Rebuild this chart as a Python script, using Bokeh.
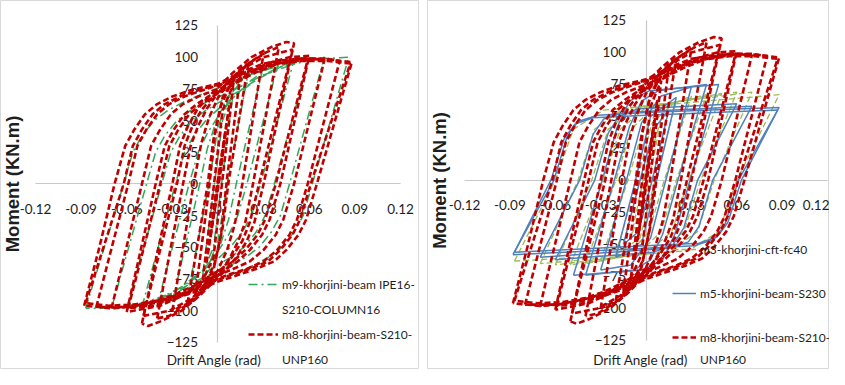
from bokeh.plotting import figure
from bokeh.models import (ColumnDataSource, LinearAxis, FixedTicker, CustomJSTickFormatter,
                          Legend, LegendItem, Label, Range1d)
from bokeh.layouts import row
from bokeh.embed import file_html
from bokeh.resources import INLINE
import math

# ---------------- data ----------------
x_ticks = [-0.12, -0.09, -0.06, -0.03, 0, 0.03, 0.06, 0.09, 0.12]
y_ticks = [-125, -100, -75, -50, -25, 0, 25, 50, 75, 100, 125]

# m8-khorjini-beam-S210-UNP160 (red dashed) : one list per cycle
m8_x = [
    [-0.005, -0.001, 0.005, 0.001, -0.005],
    [-0.0075, -0.002, 0.0075, 0.002, -0.0075],
    [-0.010, -0.005, 0.003, 0.010, 0.005, -0.003, -0.010],
    [-0.015, -0.006, -0.002, 0.003, 0.009, 0.015, 0.006, 0.002, -0.003, -0.009, -0.015],
    [-0.020, -0.007, -0.003, 0.002, 0.008, 0.014, 0.020, 0.007, 0.003, -0.002, -0.008, -0.014, -0.020],
    [-0.030, -0.016, -0.011, -0.006, 0.000, 0.007, 0.016, 0.030, 0.016, 0.011, 0.006, 0.000, -0.007, -0.016, -0.030],
    [-0.040, -0.023, -0.018, -0.013, -0.007, 0.000, 0.008, 0.020, 0.032, 0.040, 0.023, 0.018, 0.013, 0.007, 0.000, -0.008, -0.020, -0.032, -0.040],
    [-0.050, -0.030, -0.025, -0.020, -0.014, -0.007, 0.000, 0.010, 0.022, 0.035, 0.045, 0.050, 0.030, 0.024, 0.019, 0.012, 0.005, -0.002, -0.012, -0.024, -0.037, -0.046, -0.050],
    [-0.049, -0.027, -0.022, -0.017, -0.011, -0.004, 0.003, 0.015, 0.030, 0.049, 0.027, 0.021, 0.016, 0.009, 0.002, -0.005, -0.017, -0.032, -0.049],
    [-0.060, -0.041, -0.035, -0.029, -0.022, -0.014, -0.005, 0.005, 0.018, 0.032, 0.047, 0.060, 0.041, 0.034, 0.029, 0.021, 0.013, 0.004, -0.006, -0.020, -0.038, -0.060],
    [-0.059, -0.038, -0.032, -0.026, -0.019, -0.011, -0.002, 0.008, 0.022, 0.040, 0.059, 0.038, 0.031, 0.026, 0.018, 0.010, 0.001, -0.010, -0.025, -0.042, -0.059],
    [-0.070, -0.050, -0.044, -0.038, -0.031, -0.023, -0.013, -0.002, 0.010, 0.025, 0.040, 0.055, 0.070, 0.050, 0.043, 0.038, 0.030, 0.021, 0.010, 0.000, -0.012, -0.028, -0.048, -0.070],
    [-0.080, -0.059, -0.053, -0.047, -0.040, -0.032, -0.022, -0.010, 0.003, 0.018, 0.035, 0.055, 0.070, 0.080, 0.059, 0.052, 0.047, 0.039, 0.030, 0.019, 0.008, -0.005, -0.020, -0.038, -0.058, -0.080],
    [-0.088, -0.078, -0.068, -0.061, -0.055, -0.048, -0.040, -0.030, -0.018, 0.000, 0.015, 0.030, 0.045, 0.060, 0.075, 0.088, 0.065, 0.058, 0.053, 0.045, 0.037, 0.025, 0.015, 0.000, -0.015, -0.030, -0.050, -0.070, -0.088],
    [-0.087, -0.062, -0.056, -0.050, -0.043, -0.035, -0.025, -0.013, 0.002, 0.018, 0.035, 0.055, 0.072, 0.087, 0.061, 0.054, 0.049, 0.041, 0.033, 0.021, 0.010, -0.003, -0.018, -0.035, -0.055, -0.072, -0.087],
]
m8_y = [
    [-42, -6, 42, 6, -42],
    [-62, -12, 63, 12, -62],
    [-76, -25, 58, 78, 25, -58, -76],
    [-88, -5, 40, 68, 80, 88, 5, -40, -68, -80, -88],
    [-94, -2, 35, 62, 78, 88, 95, 2, -35, -62, -78, -88, -94],
    [-100, 0, 32, 52, 68, 80, 92, 103, 0, -32, -52, -68, -80, -92, -100],
    [-106, 0, 30, 46, 60, 72, 82, 95, 104, 108, 0, -30, -46, -60, -72, -82, -95, -104, -106],
    [-110, 0, 30, 45, 58, 68, 76, 88, 100, 108, 112, 111, 0, -30, -45, -58, -68, -76, -88, -100, -108, -112, -110],
    [-104, 0, 30, 45, 58, 68, 76, 90, 100, 106, 0, -30, -45, -58, -68, -76, -90, -100, -104],
    [-101, 0, 30, 43, 55, 63, 70, 76, 86, 95, 100, 101, 0, -28, -40, -52, -61, -68, -75, -86, -96, -101],
    [-98, 0, 30, 43, 55, 63, 70, 77, 88, 96, 98, 0, -28, -40, -52, -61, -68, -76, -88, -96, -98],
    [-98, 0, 30, 43, 55, 63, 69, 74, 79, 88, 95, 99, 98, 0, -28, -40, -52, -61, -67, -72, -78, -87, -95, -98],
    [-97, 0, 30, 43, 55, 63, 69, 74, 79, 88, 95, 99, 99, 97, 0, -28, -40, -52, -61, -67, -71, -77, -85, -92, -97, -97],
    [-96, -50, 0, 30, 43, 55, 63, 69, 74, 79, 88, 95, 98, 99, 98, 96, 0, -28, -40, -52, -61, -67, -71, -77, -85, -91, -96, -98, -96],
    [-94, 0, 30, 43, 55, 63, 69, 74, 79, 88, 94, 97, 97, 95, 0, -28, -40, -52, -61, -67, -71, -77, -85, -91, -95, -96, -94],
]

# m9-khorjini-beam IPE16-S210-COLUMN16 (green dash-dot)
m9_x = [
    [-0.010, -0.005, 0.003, 0.010, 0.005, -0.003, -0.010],
    [-0.020, -0.006, 0.000, 0.008, 0.020, 0.006, 0.000, -0.008, -0.020],
    [-0.030, -0.012, -0.007, -0.001, 0.006, 0.015, 0.030, 0.012, 0.007, 0.001, -0.006, -0.015, -0.030],
    [-0.040, -0.019, -0.013, -0.007, 0.001, 0.010, 0.022, 0.040, 0.019, 0.013, 0.007, -0.001, -0.010, -0.022, -0.040],
    [-0.050, -0.028, -0.022, -0.016, -0.008, 0.001, 0.012, 0.025, 0.050, 0.028, 0.022, 0.016, 0.008, -0.001, -0.012, -0.025, -0.050],
    [-0.060, -0.037, -0.031, -0.025, -0.017, -0.008, 0.003, 0.015, 0.030, 0.060, 0.037, 0.031, 0.025, 0.017, 0.008, -0.003, -0.015, -0.030, -0.060],
    [-0.070, -0.047, -0.041, -0.035, -0.027, -0.018, -0.007, 0.005, 0.020, 0.040, 0.070, 0.047, 0.041, 0.035, 0.027, 0.018, 0.007, -0.005, -0.020, -0.040, -0.070],
    [-0.087, -0.062, -0.056, -0.050, -0.042, -0.033, -0.022, -0.010, 0.005, 0.025, 0.050, 0.070, 0.086, 0.062, 0.056, 0.050, 0.042, 0.033, 0.022, 0.010, -0.005, -0.025, -0.050, -0.070, -0.087],
]
m9_y = [
    [-70, -25, 50, 72, 25, -50, -70],
    [-88, 0, 45, 70, 88, 0, -45, -70, -88],
    [-93, 0, 28, 50, 68, 82, 94, 0, -28, -50, -68, -82, -93],
    [-96, 0, 25, 40, 55, 68, 82, 97, 0, -25, -40, -55, -68, -82, -96],
    [-97, 0, 25, 38, 50, 60, 70, 82, 98, 0, -25, -38, -50, -60, -70, -82, -97],
    [-98, 0, 25, 38, 50, 58, 66, 74, 86, 99, 0, -25, -38, -50, -58, -66, -74, -86, -98],
    [-98, 0, 25, 38, 50, 58, 65, 71, 80, 92, 100, 0, -25, -38, -50, -58, -65, -71, -80, -92, -98],
    [-98, 0, 25, 38, 50, 58, 65, 71, 78, 88, 96, 99, 100, 0, -25, -38, -50, -58, -65, -71, -78, -88, -96, -98, -98],
]

# m3-khorjini-cft-fc40 (light green dashed)
m3_x = [
    [-0.010, -0.002, 0.010, 0.002, -0.010],
    [-0.020, -0.006, 0.004, 0.020, 0.006, -0.004, -0.020],
    [-0.030, -0.012, -0.002, 0.010, 0.030, 0.012, 0.002, -0.010, -0.030],
    [-0.040, -0.020, -0.010, 0.005, 0.040, 0.020, 0.010, -0.005, -0.040],
    [-0.050, -0.028, -0.017, 0.000, 0.050, 0.028, 0.017, 0.000, -0.050],
    [-0.060, -0.036, -0.025, -0.008, 0.060, 0.036, 0.025, 0.008, -0.060],
    [-0.070, -0.045, -0.034, -0.015, 0.070, 0.045, 0.034, 0.015, -0.070],
    [-0.087, -0.060, -0.048, -0.028, 0.088, 0.060, 0.048, 0.028, -0.087],
]
m3_y = [
    [-45, 0, 48, 0, -45],
    [-58, 0, 45, 62, 0, -45, -58],
    [-63, 0, 40, 56, 66, 0, -40, -56, -63],
    [-65, 0, 40, 57, 67, 0, -40, -57, -65],
    [-66, 0, 40, 57, 68, 0, -40, -57, -66],
    [-66, 0, 40, 56, 69, 0, -40, -56, -66],
    [-65, 0, 40, 56, 69, 0, -40, -56, -65],
    [-63, 0, 40, 55, 67, 0, -40, -55, -63],
]

# m5-khorjini-beam-S230 (blue solid)
m5_x = [
    [-0.015, -0.004, 0.005, 0.015, 0.004, -0.005, -0.015],
    [-0.020, -0.007, 0.003, 0.020, 0.007, -0.003, -0.020],
    [-0.030, -0.013, -0.003, 0.010, 0.030, 0.013, 0.003, -0.010, -0.030],
    [-0.040, -0.021, -0.011, -0.003, 0.008, 0.040, 0.021, 0.011, 0.003, -0.008, -0.040],
    [-0.048, -0.029, -0.019, -0.011, 0.002, 0.048, 0.029, 0.019, 0.011, -0.002, -0.048],
    [-0.060, -0.034, -0.025, -0.018, -0.005, 0.060, 0.034, 0.025, 0.018, 0.005, -0.060],
    [-0.070, -0.044, -0.035, -0.028, -0.015, 0.070, 0.044, 0.035, 0.028, 0.015, -0.070],
    [-0.088, -0.061, -0.052, -0.045, -0.032, 0.000, 0.088, 0.061, 0.052, 0.045, 0.032, 0.000, -0.088],
    [-0.087, -0.063, -0.054, -0.047, -0.035, 0.000, 0.087, 0.063, 0.054, 0.047, 0.035, 0.000, -0.087],
]
m5_y = [
    [-50, 0, 40, 55, 0, -40, -50],
    [-60, 0, 50, 65, 0, -50, -60],
    [-70, 0, 45, 66, 73, 0, -45, -66, -70],
    [-74, 0, 42, 62, 70, 75, 0, -42, -62, -70, -74],
    [-74, 0, 42, 62, 70, 75, 0, -42, -62, -70, -74],
    [-62, 0, 37, 50, 56, 60, 0, -37, -50, -56, -62],
    [-60, 0, 36, 48, 53, 58, 0, -36, -48, -53, -60],
    [-58, 0, 35, 46, 51, 53, 57, 0, -35, -46, -51, -53, -58],
    [-56, 0, 33, 44, 49, 51, 55, 0, -33, -44, -49, -51, -56],
]

x_title = "Drift Angle (rad)"
y_title = "Moment (KN.m)"

# ---------------- styling ----------------
RED = "#c00000"
GREEN = "#2fa85a"
LIME = "#9bbb59"
BLUE = "#4f81bd"
FONT = "Lato"
TXT = "#1e1e1e"
H = 369


def make_panel(width, xr, yr):
    p = figure(width=width, height=H, x_range=Range1d(*xr), y_range=Range1d(*yr),
               x_axis_type=None, y_axis_type=None, output_backend="svg",
               toolbar_location=None, min_border=0)
    p.outline_line_color = "#d9d9d9"
    p.background_fill_color = "white"
    xa = LinearAxis(fixed_location=0, bounds=(-0.12, 0.12),
                    ticker=FixedTicker(ticks=x_ticks),
                    formatter=CustomJSTickFormatter(
                        code="return Math.abs(tick) < 1e-9 ? '0' : tick.toFixed(2);"))
    ya = LinearAxis(fixed_location=0, bounds=(-125, 125),
                    ticker=FixedTicker(ticks=y_ticks))
    for ax in (xa, ya):
        ax.level = "underlay"
        ax.axis_line_color = "#c8c8c8"
        ax.axis_line_width = 1.2
        ax.major_tick_line_color = None
        ax.minor_tick_line_color = None
        ax.major_label_text_font = FONT
        ax.major_label_text_font_size = "13.5px"
        ax.major_label_text_color = TXT
        ax.major_label_standoff = 14
    p.add_layout(xa, "below")
    p.add_layout(ya, "left")
    return p


def add_titles(p, ytx, xtx, xty):
    p.add_layout(Label(x=ytx, y=0, text=y_title, angle=math.pi / 2,
                       text_align="center", text_baseline="middle",
                       text_font="Liberation Sans", text_font_style="bold",
                       text_font_size="18.5px", text_color=TXT))
    p.add_layout(Label(x=xtx, y=xty, text=x_title,
                       text_align="center", text_baseline="middle",
                       text_font=FONT, text_font_size="13.5px", text_color=TXT))


def make_legend(items, x, spacing, gw, standoff):
    return Legend(items=items, location=(x, 0), glyph_width=gw, glyph_height=20,
                  label_height=20, spacing=spacing, label_standoff=standoff,
                  padding=0, margin=0, border_line_alpha=0, background_fill_alpha=0,
                  label_text_font=FONT, label_text_font_size="12px",
                  label_text_color=TXT)


# ---------------- left panel ----------------
p1 = make_panel(419, (-0.1430, 0.1325), (-146.3, 144.7))
g1 = p1.multi_line(xs="xs", ys="ys", source=ColumnDataSource(dict(xs=m9_x, ys=m9_y)),
                   line_color=GREEN, line_width=1.5, line_dash="9 4 2 4")
r1 = p1.multi_line(xs="xs", ys="ys", source=ColumnDataSource(dict(xs=m8_x, ys=m8_y)),
                   line_color=RED, line_width=2.6, line_dash="6 3")
b1 = p1.line(x=[], y=[], line_alpha=0)
add_titles(p1, -0.1351, -0.0026, -139.2)
p1.add_layout(make_legend(
    [LegendItem(label="m9-khorjini-beam IPE16-", renderers=[g1]),
     LegendItem(label="S210-COLUMN16", renderers=[b1]),
     LegendItem(label="m8-khorjini-beam-S210-", renderers=[r1]),
     LegendItem(label="UNP160", renderers=[b1])], 248, 5, 30, 4))

# ---------------- right panel ----------------
p2 = make_panel(402, (-0.1445, 0.1213), (-147.7, 140.6))
l2 = p2.multi_line(xs="xs", ys="ys", source=ColumnDataSource(dict(xs=m3_x, ys=m3_y)),
                   line_color=LIME, line_width=1.3, line_dash="6 3")
bl2 = p2.multi_line(xs="xs", ys="ys", source=ColumnDataSource(dict(xs=m5_x, ys=m5_y)),
                    line_color=BLUE, line_width=1.5)
r2 = p2.multi_line(xs="xs", ys="ys", source=ColumnDataSource(dict(xs=m8_x, ys=m8_y)),
                   line_color=RED, line_width=2.6, line_dash="6 3")
b2 = p2.line(x=[], y=[], line_alpha=0)
add_titles(p2, -0.1366, -0.0037, -140.0)
p2.add_layout(make_legend(
    [LegendItem(label="m3-khorjini-cft-fc40", renderers=[l2]),
     LegendItem(label=" ", renderers=[b2]),
     LegendItem(label="m5-khorjini-beam-S230", renderers=[bl2]),
     LegendItem(label="  ", renderers=[b2]),
     LegendItem(label="m8-khorjini-beam-S210-", renderers=[r2]),
     LegendItem(label="UNP160", renderers=[b2])], 245, 2, 24, 4))

layout = row(p1, p2, spacing=8)
open("out.html", "w").write(file_html(layout, INLINE))
